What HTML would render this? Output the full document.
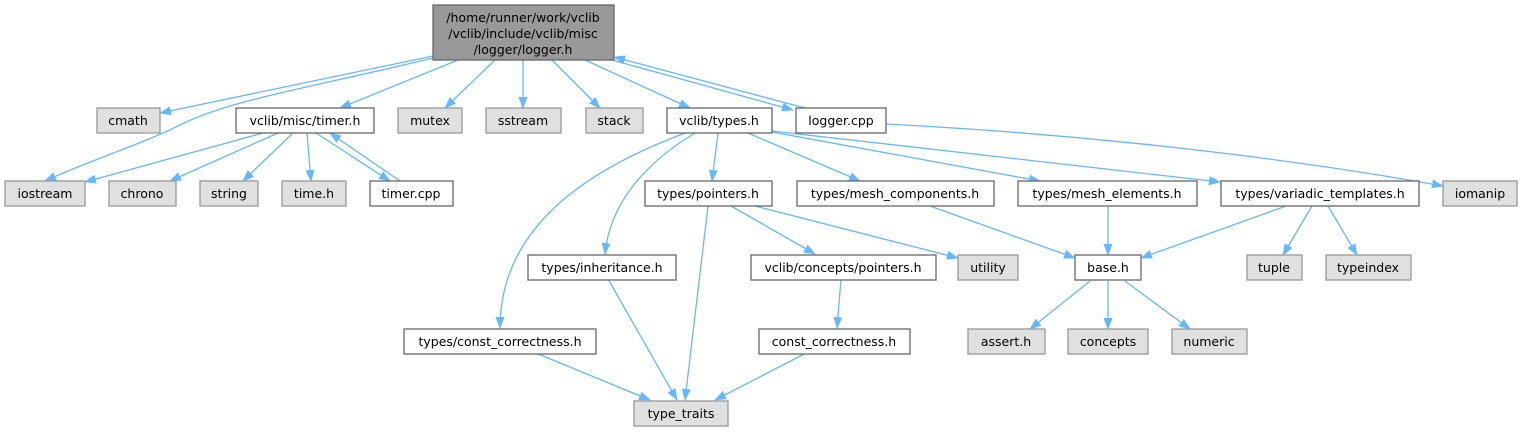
<!DOCTYPE html>
<html><head><meta charset="utf-8"><style>
body{margin:0;background:#fff}
svg text{font-family:"DejaVu Sans","Liberation Sans",sans-serif;font-size:12.5px;fill:#000;text-anchor:middle}
.w{fill:#fff;stroke:#666;stroke-width:1.3}
.g{fill:#e0e0e0;stroke:#999;stroke-width:1.3}
.e{fill:none;stroke:#63b8ff;stroke-width:1.3;marker-end:url(#a)}
</style></head><body>
<svg width="1524" height="432" viewBox="0 0 1524 432" xmlns="http://www.w3.org/2000/svg">
<defs><marker id="a" viewBox="0 0 12 10" refX="11" refY="5" markerWidth="12" markerHeight="10" markerUnits="userSpaceOnUse" orient="auto"><path d="M0,0.5 L12,5 L0,9.5 z" fill="#63b8ff"/></marker></defs>
<g>
<path class="e" d="M433,56 L160,113"/>
<path class="e" d="M433,58 C300,90 230,100 180,125 C140,145 90,160 45,181"/>
<path class="e" d="M458,60 L340,108"/>
<path class="e" d="M495,60 L445,108"/>
<path class="e" d="M523,60 L523,108"/>
<path class="e" d="M552,60 L600,108"/>
<path class="e" d="M585,60 L690,108"/>
<path class="e" d="M612,60 L793,110"/>
<path class="e" d="M805,108 L614,57"/>
<path class="e" d="M886,124 C1100,135 1300,160 1443,186"/>
<path class="e" d="M263,133 L85,182"/>
<path class="e" d="M278,133 L170,181"/>
<path class="e" d="M293,133 L243,181"/>
<path class="e" d="M307,133 L311,181"/>
<path class="e" d="M316,133 L390,181"/>
<path class="e" d="M400,181 L330,133"/>
<path class="e" d="M718,133 L712,181"/>
<path class="e" d="M748,133 L860,181"/>
<path class="e" d="M772,132 L1040,181"/>
<path class="e" d="M772,131 L1220,182"/>
<path class="e" d="M695,133 C650,160 610,200 605,254"/>
<path class="e" d="M685,133 C600,165 500,220 500,328"/>
<path class="e" d="M708,206 L685,400"/>
<path class="e" d="M731,206 L815,254"/>
<path class="e" d="M755,206 L958,258"/>
<path class="e" d="M930,206 L1075,258"/>
<path class="e" d="M1108,206 L1108,255"/>
<path class="e" d="M1286,206 L1141,258"/>
<path class="e" d="M1312,206 L1283,255"/>
<path class="e" d="M1328,206 L1357,255"/>
<path class="e" d="M608,279 L677,400"/>
<path class="e" d="M841,279 L837,328"/>
<path class="e" d="M531,351 L650,400"/>
<path class="e" d="M810,351 L715,400"/>
<path class="e" d="M1090,281 L1030,329"/>
<path class="e" d="M1108,281 L1108,329"/>
<path class="e" d="M1125,281 L1190,329"/>
</g>
<rect x="433" y="5" width="181" height="55" fill="#999" stroke="#666" stroke-width="1.3"/>
<text x="523" y="22">/home/runner/work/vclib</text>
<text x="523" y="38">/vclib/include/vclib/misc</text>
<text x="523" y="54">/logger/logger.h</text>

<rect class="g" x="97" y="108" width="63" height="25"/><text x="128" y="125">cmath</text>
<rect class="w" x="236" y="108" width="138" height="25"/><text x="305" y="125">vclib/misc/timer.h</text>
<rect class="g" x="398" y="108" width="64" height="25"/><text x="430" y="125">mutex</text>
<rect class="g" x="486" y="108" width="75" height="25"/><text x="523" y="125">sstream</text>
<rect class="g" x="586" y="108" width="57" height="25"/><text x="614" y="125">stack</text>
<rect class="w" x="667" y="108" width="105" height="25"/><text x="719" y="125">vclib/types.h</text>
<rect class="w" x="796" y="108" width="90" height="25"/><text x="841" y="125">logger.cpp</text>

<rect class="g" x="5" y="181" width="80" height="25"/><text x="45" y="198">iostream</text>
<rect class="g" x="109" y="181" width="67" height="25"/><text x="142" y="198">chrono</text>
<rect class="g" x="200" y="181" width="58" height="25"/><text x="229" y="198">string</text>
<rect class="g" x="282" y="181" width="64" height="25"/><text x="314" y="198">time.h</text>
<rect class="w" x="370" y="181" width="83" height="25"/><text x="411" y="198">timer.cpp</text>
<rect class="w" x="645" y="181" width="127" height="25"/><text x="708" y="198">types/pointers.h</text>
<rect class="w" x="797" y="181" width="197" height="25"/><text x="895" y="198">types/mesh_components.h</text>
<rect class="w" x="1018" y="181" width="179" height="25"/><text x="1107" y="198">types/mesh_elements.h</text>
<rect class="w" x="1221" y="181" width="198" height="25"/><text x="1320" y="198">types/variadic_templates.h</text>
<rect class="g" x="1443" y="181" width="74" height="25"/><text x="1480" y="198">iomanip</text>

<rect class="w" x="528" y="255" width="148" height="25"/><text x="602" y="272">types/inheritance.h</text>
<rect class="w" x="751" y="255" width="185" height="25"/><text x="843" y="272">vclib/concepts/pointers.h</text>
<rect class="g" x="958" y="255" width="60" height="25"/><text x="988" y="272">utility</text>
<rect class="w" x="1075" y="255" width="66" height="25"/><text x="1108" y="272">base.h</text>
<rect class="g" x="1247" y="255" width="55" height="25"/><text x="1274" y="272">tuple</text>
<rect class="g" x="1326" y="255" width="85" height="25"/><text x="1368" y="272">typeindex</text>

<rect class="w" x="404" y="329" width="192" height="25"/><text x="500" y="346">types/const_correctness.h</text>
<rect class="w" x="759" y="329" width="151" height="25"/><text x="834" y="346">const_correctness.h</text>
<rect class="g" x="968" y="329" width="77" height="25"/><text x="1006" y="346">assert.h</text>
<rect class="g" x="1068" y="329" width="80" height="25"/><text x="1108" y="346">concepts</text>
<rect class="g" x="1172" y="329" width="75" height="25"/><text x="1209" y="346">numeric</text>

<rect class="g" x="634" y="401" width="94" height="25"/><text x="681" y="418">type_traits</text>
</svg>
</body></html>
